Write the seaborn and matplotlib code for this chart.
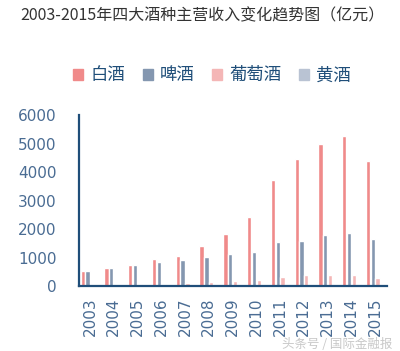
import pandas as pd
import seaborn as sns
import matplotlib.pyplot as plt

years = [str(y) for y in range(2003, 2016)]
baijiu = [524, 640, 734, 955, 1072, 1404, 1825, 2409, 3719, 4444, 4994, 5263, 4374]
pijiu = [524, 640, 734, 839, 920, 1018, 1134, 1205, 1556, 1590, 1789, 1860, 1637]
putaojiu = [35, 45, 80, 90, 120, 150, 180, 215, 330, 380, 380, 380, 300]
huangjiu = [15, 20, 25, 30, 35, 40, 45, 50, 60, 70, 70, 70, 70]
series_names = ["白酒", "啤酒", "葡萄酒", "黄酒"]
colors = ["#F08A8A", "#8497B0", "#F4B6B6", "#B9C3D3"]

df = pd.DataFrame({"年份": years, "白酒": baijiu, "啤酒": pijiu,
                   "葡萄酒": putaojiu, "黄酒": huangjiu})
long_df = df.melt(id_vars="年份", var_name="酒种", value_name="收入")

sns.set_style("white")
plt.rcParams["font.family"] = ["DejaVu Sans", "Noto Sans CJK SC"]

fig = plt.figure(figsize=(4, 3.51), dpi=100)
ax = fig.add_axes([0.1975, 0.185, 0.77, 0.487])

sns.barplot(data=long_df, x="年份", y="收入", hue="酒种", hue_order=series_names,
            palette=colors, width=0.8, gap=0.1, saturation=1, ax=ax, legend=False)

axis_blue = "#1F4E79"
tick_blue = "#4A6C93"
ax.set_ylim(0, 6000)
ax.set_xlim(-0.46, 12.5)
ax.set_yticks(range(0, 6001, 1000))
ax.set_xlabel("")
ax.set_ylabel("")
for s in ["top", "right"]:
    ax.spines[s].set_visible(False)
for s in ["left", "bottom"]:
    ax.spines[s].set_color(axis_blue)
    ax.spines[s].set_linewidth(1.6)
ax.tick_params(axis="y", direction="in", length=3, width=1, color=axis_blue,
               labelsize=11, labelcolor=tick_blue, pad=16)
ax.tick_params(axis="x", length=0, labelsize=11, labelcolor=tick_blue,
               labelrotation=90, pad=8)

fig.text(0.05, 0.955, "2003-2015年四大酒种主营收入变化趋势图（亿元）",
         fontsize=11.5, color="#333333", va="center", ha="left",
         family=["Noto Sans CJK SC", "DejaVu Sans"])

handles = [plt.Rectangle((0, 0), 1, 1, color=c) for c in colors]
fig.legend(handles, series_names, loc="center", bbox_to_anchor=(0.53, 0.785),
           ncol=4, frameon=False, labelcolor=axis_blue,
           handlelength=0.6, handleheight=0.6, handletextpad=0.4,
           columnspacing=1.0, prop={"family": ["Noto Sans CJK SC"], "size": 12.5})

fig.text(0.98, 0.018, "头条号 / 国际金融报", fontsize=9, color="#C8C8C8",
         ha="right", va="center", family=["Noto Sans CJK SC"])

fig.savefig("out.png", dpi=100)
